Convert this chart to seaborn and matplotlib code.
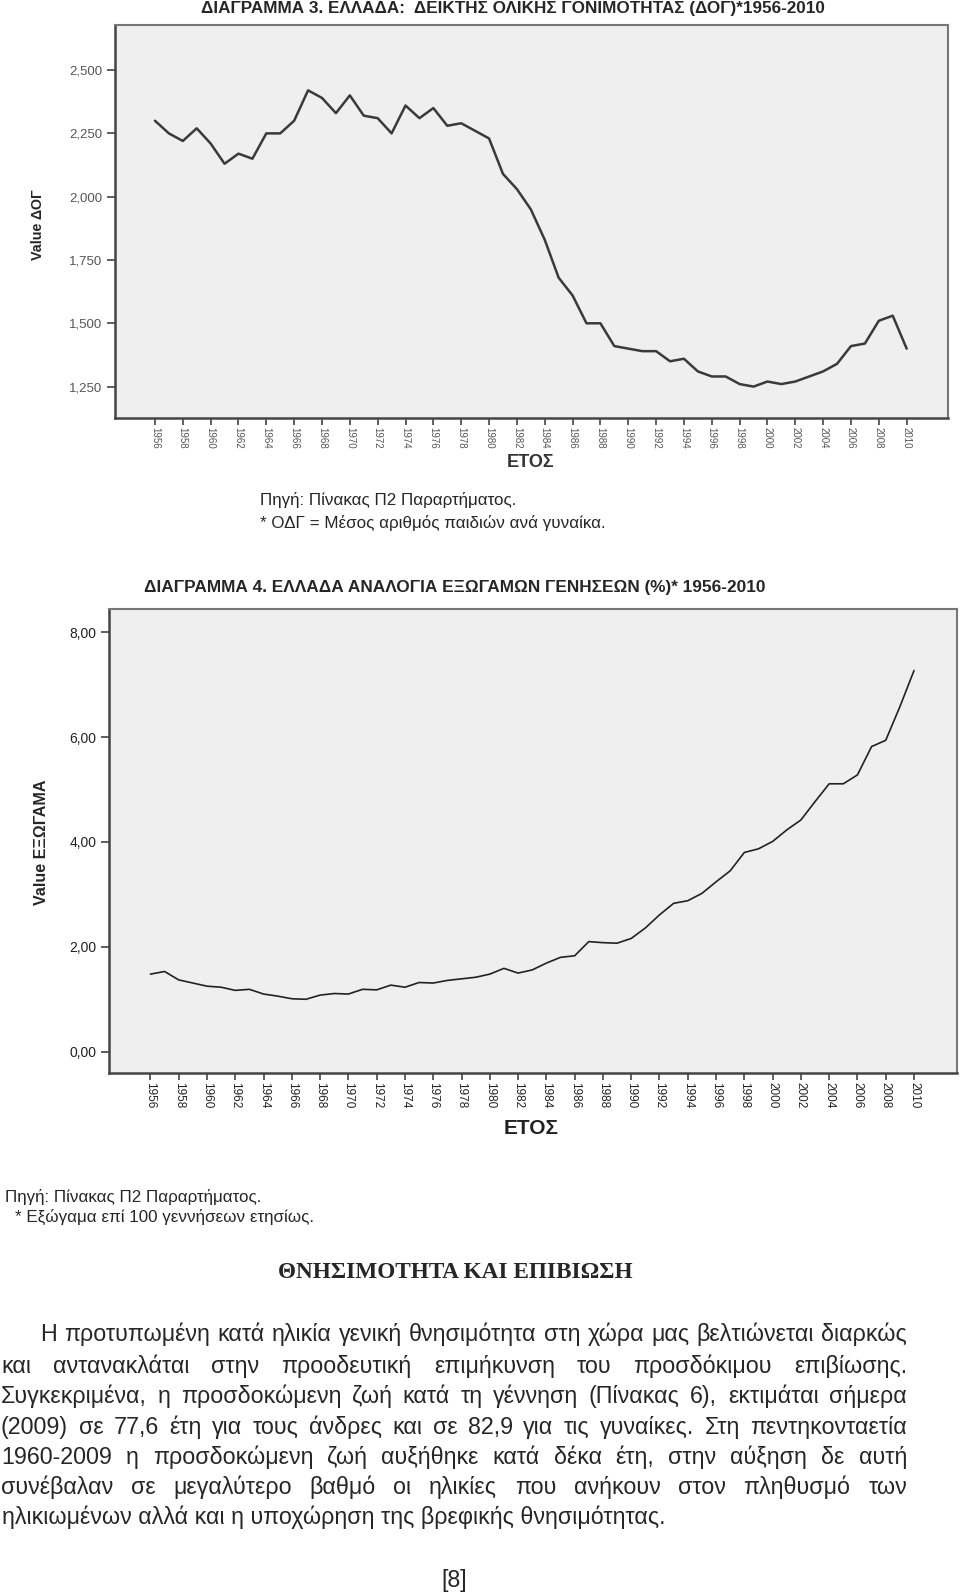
import matplotlib
matplotlib.use("Agg")
import matplotlib.pyplot as plt
import pandas as pd
import seaborn as sns
from matplotlib import font_manager
from matplotlib.ticker import FuncFormatter

# --- data ---
years = list(range(1956, 2011))
tfr = [2.30, 2.25, 2.22, 2.27, 2.21, 2.13, 2.17, 2.15, 2.25, 2.25,
       2.30, 2.42, 2.39, 2.33, 2.40, 2.32, 2.31, 2.25, 2.36, 2.31,
       2.35, 2.28, 2.29, 2.26, 2.23, 2.09, 2.03, 1.95, 1.83, 1.68,
       1.61, 1.50, 1.50, 1.41, 1.40, 1.39, 1.39, 1.35, 1.36, 1.31,
       1.29, 1.29, 1.26, 1.25, 1.27, 1.26, 1.27, 1.29, 1.31, 1.34,
       1.41, 1.42, 1.51, 1.53, 1.40]
extramarital = [1.48, 1.53, 1.37, 1.31, 1.25, 1.23, 1.17, 1.19, 1.10, 1.06,
                1.01, 1.00, 1.08, 1.11, 1.10, 1.19, 1.18, 1.27, 1.23, 1.32,
                1.31, 1.36, 1.39, 1.42, 1.48, 1.59, 1.50, 1.56, 1.69, 1.80,
                1.83, 2.10, 2.08, 2.07, 2.16, 2.36, 2.61, 2.83, 2.88, 3.02,
                3.24, 3.45, 3.80, 3.87, 4.01, 4.23, 4.42, 4.77, 5.11, 5.11,
                5.28, 5.82, 5.94, 6.58, 7.27]
tick_years = list(range(1956, 2011, 2))
tfr_ticks = [1.25, 1.5, 1.75, 2.0, 2.25, 2.5]
ext_ticks = [0, 2, 4, 6, 8]

title1 = "ΔΙΑΓΡΑΜΜΑ 3. ΕΛΛΑΔΑ:  ΔΕΙΚΤΗΣ ΟΛΙΚΗΣ ΓΟΝΙΜΟΤΗΤΑΣ (ΔΟΓ)*1956-2010"
title2 = "ΔΙΑΓΡΑΜΜΑ 4. ΕΛΛΑΔΑ ΑΝΑΛΟΓΙΑ ΕΞΩΓΑΜΩΝ ΓΕΝΗΣΕΩΝ (%)* 1956-2010"
source = "Πηγή: Πίνακας Π2 Παραρτήματος."
note1 = "* ΟΔΓ = Μέσος αριθμός παιδιών ανά γυναίκα."
note2 = "* Εξώγαμα επί 100 γεννήσεων ετησίως."
heading = "ΘΝΗΣΙΜΟΤΗΤΑ ΚΑΙ ΕΠΙΒΙΩΣΗ"
paragraph = [
    "Η προτυπωμένη κατά ηλικία γενική θνησιμότητα στη χώρα μας βελτιώνεται διαρκώς",
    "και αντανακλάται στην προοδευτική επιμήκυνση του προσδόκιμου επιβίωσης.",
    "Συγκεκριμένα, η προσδοκώμενη ζωή κατά τη γέννηση (Πίνακας 6), εκτιμάται σήμερα",
    "(2009) σε 77,6 έτη για τους άνδρες και σε 82,9 για τις γυναίκες. Στη πεντηκονταετία",
    "1960-2009 η προσδοκώμενη ζωή αυξήθηκε κατά δέκα έτη, στην αύξηση δε αυτή",
    "συνέβαλαν σε μεγαλύτερο βαθμό οι ηλικίες που ανήκουν στον πληθυσμό των",
    "ηλικιωμένων αλλά και η υποχώρηση της βρεφικής θνησιμότητας.",
]

W, H = 960, 1593
sns.set_style("white")
plt.rcParams['font.family'] = ['Liberation Sans', 'DejaVu Sans']
installed = {f.name for f in font_manager.fontManager.ttflist}
narrow = 'Liberation Sans Narrow' if 'Liberation Sans Narrow' in installed else 'Liberation Sans'

fig = plt.figure(figsize=(W / 100, H / 100), dpi=100)
rend = fig.canvas.get_renderer()


def box(l, t, r, b):
    return [l / W, 1 - b / H, (r - l) / W, (b - t) / H]


def put(x, y, s, width=None, size=12, vertical=False, **kw):
    """Place text at pixel coords; optionally scale the font to a pixel width."""
    t = fig.text(x / W, 1 - y / H, s, fontsize=size, **kw)
    if width:
        bb = t.get_window_extent(rend)
        cur = bb.height if vertical else bb.width
        t.set_fontsize(size * width / cur)
    return t


def style_axes(ax, xlim, ylim, yticks, fmt, ysize, xsize, lab_color):
    ax.set_facecolor('#efefef')
    ax.set_xlim(xlim)
    ax.set_ylim(ylim)
    ax.set_xticks(tick_years)
    ax.set_yticks(yticks)
    ax.yaxis.set_major_formatter(FuncFormatter(lambda v, p: fmt.format(v).replace('.', ',')))
    ax.tick_params(axis='y', left=True, direction='out', length=6, width=1.2, color='#444',
                   labelsize=ysize, labelcolor=lab_color, pad=3)
    ax.tick_params(axis='x', bottom=True, direction='out', length=5, width=1.2, color='#444',
                   labelsize=xsize, labelcolor=lab_color, labelrotation=270, pad=1.5)
    for lbl in ax.get_xticklabels():
        lbl.set_ha('center')
        lbl.set_va('top')
    ax.set_xlabel('')
    ax.set_ylabel('')
    for side in ['top', 'right']:
        ax.spines[side].set_color('#777')
        ax.spines[side].set_linewidth(1.5)
    for side in ['left', 'bottom']:
        ax.spines[side].set_color('#444')
        ax.spines[side].set_linewidth(1.8)


# chart 3: total fertility rate
ax1 = fig.add_axes(box(115, 25, 948, 418))
df1 = pd.DataFrame({'year': years, 'tfr': tfr})
sns.lineplot(data=df1, x='year', y='tfr', ax=ax1, color='#3a3a3a', linewidth=1.8)
style_axes(ax1, (1953.13, 2012.97), (1.126, 2.678), tfr_ticks, '{:.3f}', 9.5, 7, '#555')

# chart 4: share of births outside marriage
ax2 = fig.add_axes(box(109, 609, 957, 1073))
df2 = pd.DataFrame({'year': years, 'ext': extramarital})
sns.lineplot(data=df2, x='year', y='ext', ax=ax2, color='#222', linewidth=1.2)
style_axes(ax2, (1953.07, 2013.04), (-0.406, 8.444), ext_ticks, '{:.2f}', 10, 8.5, '#222')

# titles and axis labels
put(513, 8, title1, width=620, size=12, ha='center', va='center', weight='bold', family=narrow)
put(144, 587, title2, width=618, size=12, ha='left', va='center', weight='bold')
put(38, 225, "Value ΔΟΓ", width=70, size=12, vertical=True, rotation=90,
    ha='center', va='center', weight='bold', family=narrow)
put(42, 842, "Value ΕΞΩΓΑΜΑ", width=125, size=12, vertical=True, rotation=90,
    ha='center', va='center', weight='bold', family=narrow)
put(531, 463, "ΕΤΟΣ", size=13, ha='center', va='center', weight='bold', color='#333')
put(531, 1128, "ΕΤΟΣ", size=15, ha='center', va='center', weight='bold', color='#222')

# source notes
src = put(260, 500, source, width=257, size=12, ha='left', va='center')
note_size = src.get_fontsize()
put(260, 523, note1, size=note_size, ha='left', va='center')
put(5, 1197, source, size=note_size, ha='left', va='center')
put(15, 1217, note2, size=note_size, ha='left', va='center')

# section heading and justified paragraph
put(455, 1273, heading, width=355, size=16, ha='center', va='center', weight='bold',
    family=['Liberation Serif', 'DejaVu Serif'])

last = put(2, 1518, paragraph[-1], width=668, size=14, ha='left', va='center')
body_size = last.get_fontsize()
# words are set on a common baseline so accents don't shift them
drop = 0.26 * body_size * 100 / 72
last.set_va('baseline')
last.set_y(1 - (1518 + drop) / H)
line_y = [1335, 1367, 1397, 1428, 1458, 1488]
for i, (line, y) in enumerate(zip(paragraph[:-1], line_y)):
    x0 = 40 if i == 0 else 1
    words = line.split()
    ts = [put(0, y + drop, w, size=body_size, ha='left', va='baseline') for w in words]
    widths = [t.get_window_extent(rend).width for t in ts]
    gap = (907 - x0 - sum(widths)) / (len(words) - 1)
    x = x0
    for t, w in zip(ts, widths):
        t.set_x(x / W)
        x += w + gap

put(454, 1580, "[8]", size=body_size, ha='center', va='center')

fig.savefig("out.png", dpi=100, facecolor='white')
